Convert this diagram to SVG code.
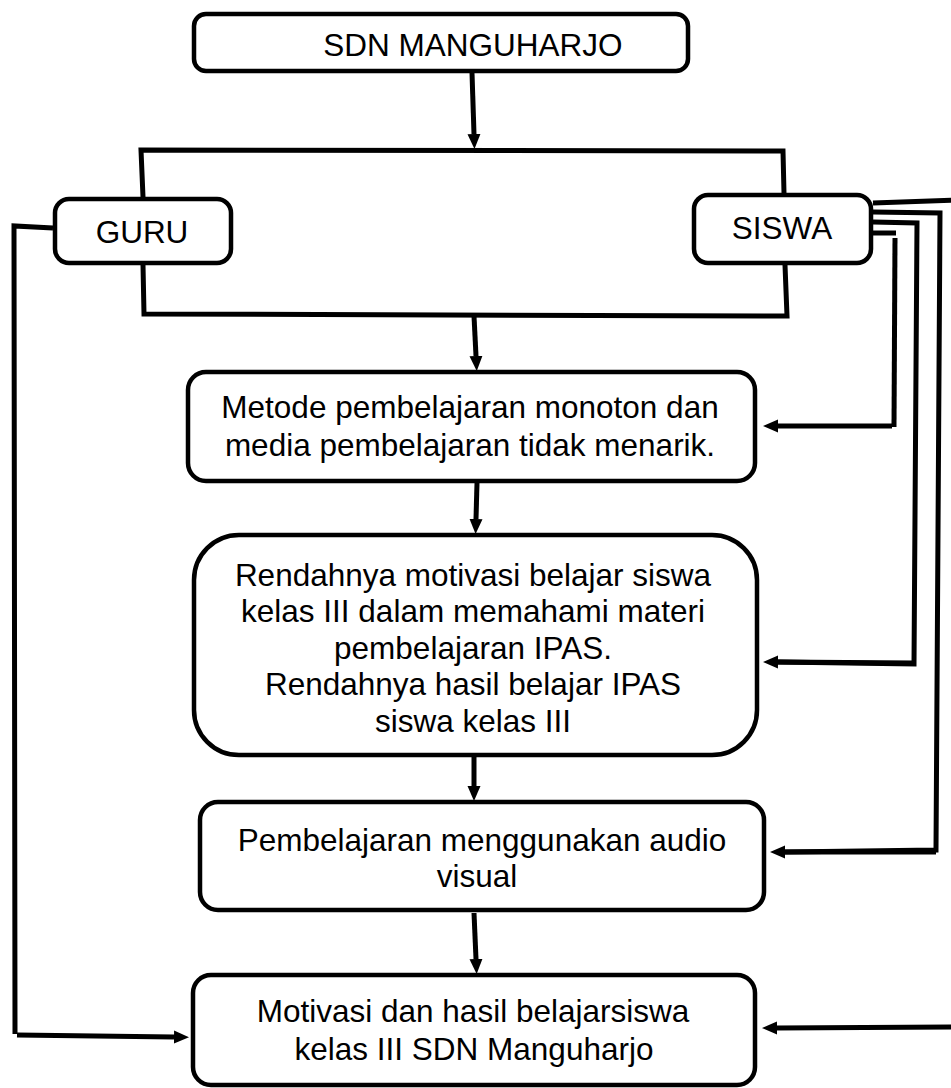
<svg xmlns="http://www.w3.org/2000/svg" width="951" height="1088" viewBox="0 0 951 1088">
<style>
.box{fill:#fff;stroke:#000;stroke-width:4.5}
.lbl{font-family:"Liberation Sans",Arial,sans-serif;font-size:31.5px;fill:#000;text-anchor:middle}
.con{fill:none;stroke:#000;stroke-width:5;stroke-linejoin:miter}
.arr{fill:none;stroke:#000;stroke-width:5;marker-end:url(#ah)}
</style>
<defs>
<marker id="ah" viewBox="0 -7 16 14" markerWidth="16" markerHeight="14" refX="0" refY="0" orient="auto" markerUnits="userSpaceOnUse">
<path d="M0,-6.5 L15,0 L0,6.5 Z" fill="#000"/>
</marker>
</defs>
<rect width="951" height="1088" fill="#fff"/>
<g id="connectors">
<path class="arr" d="M472,73 L474,134"/>
<path class="con" d="M143,197 L141,150 L783,151 L784,193"/>
<path class="con" d="M143,265 L144,314 L787,316 L785,265"/>
<path class="arr" d="M474,316 L476,356"/>
<path class="arr" d="M477,483 L476,519"/>
<path class="arr" d="M474,757 L474,786"/>
<path class="arr" d="M474,913 L476,959"/>
<path class="con" d="M53,228 L14,226 L15,1034"/>
<path class="arr" d="M17,1035 L174,1037"/>
<path class="con" d="M873,203 L960,200"/>
<path class="arr" d="M960,1027 L777,1028"/>
<path class="con" d="M873,212 L940,213 L936,850 L785,852"/>
<path class="arr" d="M936,852 L785,852"/>
<path class="con" d="M873,222 L917,223 L914,664 L778,662"/>
<path class="arr" d="M914,663 L778,662"/>
<path class="con" d="M873,233 L896,233"/>
<path class="con" d="M895,238 L894,427"/>
<path class="arr" d="M892,426 L778,426"/>
</g>
<g id="sdn">
<rect class="box" x="194" y="14" width="494" height="57" rx="12"/>
<text class="lbl" x="473" y="56">SDN MANGUHARJO</text>
</g>
<g id="guru">
<rect class="box" x="55" y="199" width="176" height="64" rx="14"/>
<text class="lbl" x="142" y="243">GURU</text>
</g>
<g id="siswa">
<rect class="box" x="694" y="195" width="177" height="68" rx="14"/>
<text class="lbl" x="782" y="239">SISWA</text>
</g>
<g id="metode">
<rect class="box" x="188" y="372" width="567" height="109" rx="18"/>
<text class="lbl" x="470" y="418">Metode pembelajaran monoton dan</text>
<text class="lbl" x="470" y="456">media pembelajaran tidak menarik.</text>
</g>
<g id="rendahnya">
<rect class="box" x="194" y="535" width="563" height="220" rx="45"/>
<text class="lbl" x="473" y="586">Rendahnya motivasi belajar siswa</text>
<text class="lbl" x="473" y="622">kelas III dalam memahami materi</text>
<text class="lbl" x="473" y="659">pembelajaran IPAS.</text>
<text class="lbl" x="473" y="695">Rendahnya hasil belajar IPAS</text>
<text class="lbl" x="473" y="732">siswa kelas III</text>
</g>
<g id="audiovisual">
<rect class="box" x="200" y="802" width="564" height="108" rx="18"/>
<text class="lbl" x="482" y="851">Pembelajaran menggunakan audio</text>
<text class="lbl" x="477" y="887">visual</text>
</g>
<g id="hasil">
<rect class="box" x="193" y="975" width="562" height="110" rx="18"/>
<text class="lbl" x="473" y="1022">Motivasi dan hasil belajarsiswa</text>
<text class="lbl" x="474" y="1060">kelas III SDN Manguharjo</text>
</g>
</svg>
